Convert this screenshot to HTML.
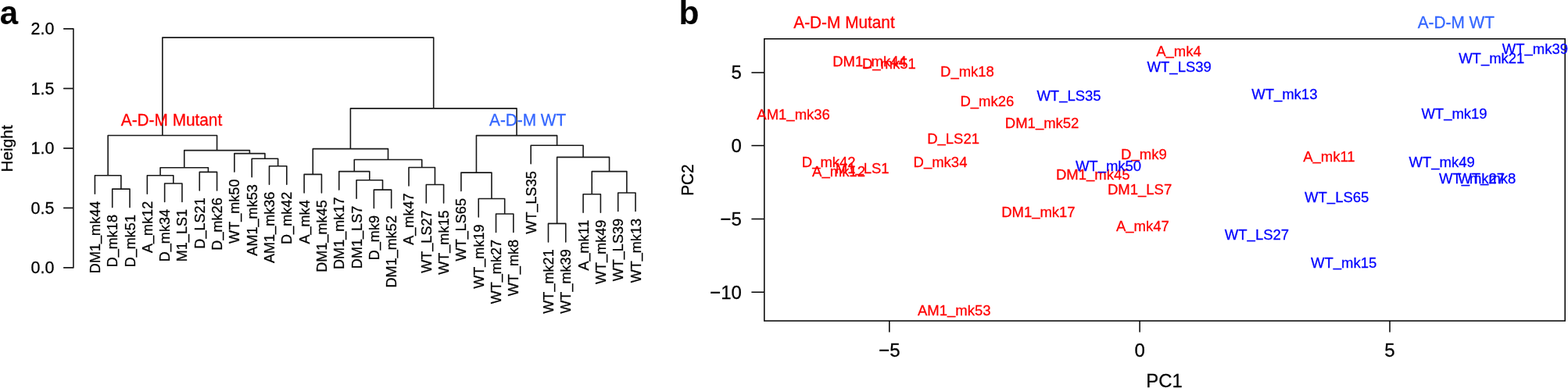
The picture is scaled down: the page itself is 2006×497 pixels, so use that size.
<!DOCTYPE html>
<html lang="en">
<head>
<meta charset="utf-8">
<title>Figure: hierarchical clustering and PCA</title>
<style>
html,body{margin:0;padding:0;background:#fff;}
body{width:2006px;height:497px;overflow:hidden;}
svg{display:block;}
svg text{font-family:"Liberation Sans", sans-serif;fill:#000;stroke:#000;stroke-width:0.28px;}
svg text.b{stroke:none;font-weight:bold;}
svg path.pb{stroke:#000;stroke-width:1.5;stroke-linecap:butt;stroke-linejoin:miter;}
svg path{fill:none;stroke:#181818;stroke-width:1.6;stroke-linecap:round;stroke-linejoin:round;}
</style>
</head>
<body>
<svg width="2006" height="497" viewBox="0 0 2006 497">
<rect x="0" y="0" width="2006" height="497" fill="#ffffff" stroke="none"/>
<path d="M93.9 36.9V342.9M93.9 36.9H81.7M93.9 113.4H81.7M93.9 189.9H81.7M93.9 266.4H81.7M93.9 342.9H81.7" />
<path d="M121.40 224.80V248.30M143.71 242.10V265.60M166.02 242.10V265.60M143.71 242.10H166.02M154.87 224.80V242.10M121.40 224.80H154.87M138.13 173.50V224.80M188.33 224.80V248.30M210.64 235.00V258.50M232.95 235.00V258.50M210.64 235.00H232.95M221.79 224.80V235.00M188.33 224.80H221.79M205.06 214.70V224.80M255.26 220.40V243.90M277.57 220.40V243.90M255.26 220.40H277.57M266.41 214.70V220.40M205.06 214.70H266.41M235.74 192.60V214.70M299.88 196.60V220.10M322.19 203.30V226.80M344.50 212.70V236.20M366.81 212.70V236.20M344.50 212.70H366.81M355.65 203.30V212.70M322.19 203.30H355.65M338.92 196.60V203.30M299.88 196.60H338.92M319.40 192.60V196.60M235.74 192.60H319.40M277.57 173.50V192.60M138.13 173.50H277.57M207.85 48.10V173.50M389.12 223.40V246.90M411.43 223.40V246.90M389.12 223.40H411.43M400.27 190.60V223.40M433.74 219.60V243.10M456.05 230.80V254.30M478.36 243.10V266.60M500.67 243.10V266.60M478.36 243.10H500.67M489.51 230.80V243.10M456.05 230.80H489.51M472.78 219.60V230.80M433.74 219.60H472.78M453.26 204.50V219.60M522.98 214.50V238.00M545.29 236.50V260.00M567.60 236.50V260.00M545.29 236.50H567.60M556.44 214.50V236.50M522.98 214.50H556.44M539.71 204.50V214.50M453.26 204.50H539.71M496.49 190.60V204.50M400.27 190.60H496.49M448.38 138.90V190.60M589.91 221.10V244.60M612.22 254.50V278.00M634.53 274.00V297.50M656.84 274.00V297.50M634.53 274.00H656.84M645.68 254.50V274.00M612.22 254.50H645.68M628.95 221.10V254.50M589.91 221.10H628.95M609.43 173.60V221.10M679.15 186.30V209.80M701.46 286.40V309.90M723.77 286.40V309.90M701.46 286.40H723.77M712.62 201.40V286.40M746.08 248.70V272.20M768.39 248.70V272.20M746.08 248.70H768.39M757.23 219.60V248.70M790.70 247.00V270.50M813.01 247.00V270.50M790.70 247.00H813.01M801.86 219.60V247.00M757.23 219.60H801.86M779.54 201.40V219.60M712.62 201.40H779.54M746.08 186.30V201.40M679.15 186.30H746.08M712.62 173.60V186.30M609.43 173.60H712.62M661.02 138.90V173.60M448.38 138.90H661.02M554.70 48.10V138.90M207.85 48.10H554.70" />
<g font-size="21.4" text-anchor="end">
<text transform="translate(69.30 44.20) scale(1 1.035)">2.0</text>
<text transform="translate(69.30 120.70) scale(1 1.035)">1.5</text>
<text transform="translate(69.30 197.20) scale(1 1.035)">1.0</text>
<text transform="translate(69.30 273.70) scale(1 1.035)">0.5</text>
<text transform="translate(69.30 350.20) scale(1 1.035)">0.0</text>
</g>
<text transform="translate(15.70 190.40) rotate(-90)" font-size="20.8" text-anchor="middle">Height</text>
<g font-size="18.1" text-anchor="end">
<text transform="translate(127.90 257.70) rotate(-90) scale(1 1.015)">DM1<tspan dy="-1.72">_</tspan><tspan dy="1.72">mk44</tspan></text>
<text transform="translate(150.21 275.00) rotate(-90) scale(1 1.015)">D<tspan dy="-1.72">_</tspan><tspan dy="1.72">mk18</tspan></text>
<text transform="translate(172.52 275.00) rotate(-90) scale(1 1.015)">D<tspan dy="-1.72">_</tspan><tspan dy="1.72">mk51</tspan></text>
<text transform="translate(194.83 257.70) rotate(-90) scale(1 1.015)">A<tspan dy="-1.72">_</tspan><tspan dy="1.72">mk12</tspan></text>
<text transform="translate(217.14 267.90) rotate(-90) scale(1 1.015)">D<tspan dy="-1.72">_</tspan><tspan dy="1.72">mk34</tspan></text>
<text transform="translate(239.45 267.90) rotate(-90) scale(1 1.015)">M1<tspan dy="-1.72">_</tspan><tspan dy="1.72">LS1</tspan></text>
<text transform="translate(261.76 253.30) rotate(-90) scale(1 1.015)">D<tspan dy="-1.72">_</tspan><tspan dy="1.72">LS21</tspan></text>
<text transform="translate(284.07 253.30) rotate(-90) scale(1 1.015)">D<tspan dy="-1.72">_</tspan><tspan dy="1.72">mk26</tspan></text>
<text transform="translate(306.38 229.50) rotate(-90) scale(1 1.015)">WT<tspan dy="-1.72">_</tspan><tspan dy="1.72">mk50</tspan></text>
<text transform="translate(328.69 236.20) rotate(-90) scale(1 1.015)">AM1<tspan dy="-1.72">_</tspan><tspan dy="1.72">mk53</tspan></text>
<text transform="translate(351.00 245.60) rotate(-90) scale(1 1.015)">AM1<tspan dy="-1.72">_</tspan><tspan dy="1.72">mk36</tspan></text>
<text transform="translate(373.31 245.60) rotate(-90) scale(1 1.015)">D<tspan dy="-1.72">_</tspan><tspan dy="1.72">mk42</tspan></text>
<text transform="translate(395.62 256.30) rotate(-90) scale(1 1.015)">A<tspan dy="-1.72">_</tspan><tspan dy="1.72">mk4</tspan></text>
<text transform="translate(417.93 256.30) rotate(-90) scale(1 1.015)">DM1<tspan dy="-1.72">_</tspan><tspan dy="1.72">mk45</tspan></text>
<text transform="translate(440.24 252.50) rotate(-90) scale(1 1.015)">DM1<tspan dy="-1.72">_</tspan><tspan dy="1.72">mk17</tspan></text>
<text transform="translate(462.55 263.70) rotate(-90) scale(1 1.015)">DM1<tspan dy="-1.72">_</tspan><tspan dy="1.72">LS7</tspan></text>
<text transform="translate(484.86 276.00) rotate(-90) scale(1 1.015)">D<tspan dy="-1.72">_</tspan><tspan dy="1.72">mk9</tspan></text>
<text transform="translate(507.17 276.00) rotate(-90) scale(1 1.015)">DM1<tspan dy="-1.72">_</tspan><tspan dy="1.72">mk52</tspan></text>
<text transform="translate(529.48 247.40) rotate(-90) scale(1 1.015)">A<tspan dy="-1.72">_</tspan><tspan dy="1.72">mk47</tspan></text>
<text transform="translate(551.79 269.40) rotate(-90) scale(1 1.015)">WT<tspan dy="-1.72">_</tspan><tspan dy="1.72">LS27</tspan></text>
<text transform="translate(574.10 269.40) rotate(-90) scale(1 1.015)">WT<tspan dy="-1.72">_</tspan><tspan dy="1.72">mk15</tspan></text>
<text transform="translate(596.41 254.00) rotate(-90) scale(1 1.015)">WT<tspan dy="-1.72">_</tspan><tspan dy="1.72">LS65</tspan></text>
<text transform="translate(618.72 287.40) rotate(-90) scale(1 1.015)">WT<tspan dy="-1.72">_</tspan><tspan dy="1.72">mk19</tspan></text>
<text transform="translate(641.03 306.90) rotate(-90) scale(1 1.015)">WT<tspan dy="-1.72">_</tspan><tspan dy="1.72">mk27</tspan></text>
<text transform="translate(663.34 306.90) rotate(-90) scale(1 1.015)">WT<tspan dy="-1.72">_</tspan><tspan dy="1.72">mk8</tspan></text>
<text transform="translate(685.65 219.20) rotate(-90) scale(1 1.015)">WT<tspan dy="-1.72">_</tspan><tspan dy="1.72">LS35</tspan></text>
<text transform="translate(707.96 319.30) rotate(-90) scale(1 1.015)">WT<tspan dy="-1.72">_</tspan><tspan dy="1.72">mk21</tspan></text>
<text transform="translate(730.27 319.30) rotate(-90) scale(1 1.015)">WT<tspan dy="-1.72">_</tspan><tspan dy="1.72">mk39</tspan></text>
<text transform="translate(752.58 281.60) rotate(-90) scale(1 1.015)">A<tspan dy="-1.72">_</tspan><tspan dy="1.72">mk11</tspan></text>
<text transform="translate(774.89 281.60) rotate(-90) scale(1 1.015)">WT<tspan dy="-1.72">_</tspan><tspan dy="1.72">mk49</tspan></text>
<text transform="translate(797.20 279.90) rotate(-90) scale(1 1.015)">WT<tspan dy="-1.72">_</tspan><tspan dy="1.72">LS39</tspan></text>
<text transform="translate(819.51 279.90) rotate(-90) scale(1 1.015)">WT<tspan dy="-1.72">_</tspan><tspan dy="1.72">mk13</tspan></text>
</g>
<text transform="translate(-0.30 30.90)" font-size="42" class="b">a</text>
<text transform="translate(868.50 30.90)" font-size="42.5" class="b">b</text>
<text transform="translate(219.50 160.50) scale(1 1.03)" font-size="20.8" text-anchor="middle" style="fill:#ff0000;stroke:#ff0000">A-D-M Mutant</text>
<text transform="translate(675.10 160.80) scale(1 1.03)" font-size="20.8" text-anchor="middle" style="fill:#3366ff;stroke:#3366ff">A-D-M WT</text>
<path class="pb" d="M977.8 49.8H2002.2V411.1H977.8ZM1137.8 411.1V425.5M1458.1 411.1V425.5M1778.0 411.1V425.5M977.8 92.9H961.4M977.8 186.6H961.4M977.8 280.4H961.4M977.8 374.2H961.4" />
<g font-size="24" text-anchor="middle">
<text transform="translate(1137.80 456.90) scale(1 1.035)">−5</text>
<text transform="translate(1458.10 456.90) scale(1 1.035)">0</text>
<text transform="translate(1778.00 456.90) scale(1 1.035)">5</text>
</g>
<g font-size="24" text-anchor="end">
<text transform="translate(948.90 101.40) scale(1 1.035)">5</text>
<text transform="translate(948.90 195.10) scale(1 1.035)">0</text>
<text transform="translate(948.90 288.90) scale(1 1.035)">−5</text>
<text transform="translate(948.90 382.70) scale(1 1.035)">−10</text>
</g>
<text transform="translate(1489.50 496.10) scale(1 1.035)" font-size="23.8" text-anchor="middle">PC1</text>
<text transform="translate(886.90 230.60) rotate(-90) scale(1 1.035)" font-size="20.8" text-anchor="middle">PC2</text>
<text transform="translate(1080.00 35.90) scale(1 1.03)" font-size="20.8" text-anchor="middle" style="fill:#ff0000;stroke:#ff0000">A-D-M Mutant</text>
<text transform="translate(1862.80 35.90) scale(1 1.03)" font-size="20.8" text-anchor="middle" style="fill:#3366ff;stroke:#3366ff">A-D-M WT</text>
<g font-size="18.5">
<text transform="translate(1065.20 85.10) scale(1 1.015)" text-anchor="start" style="fill:#ff0000;stroke:#ff0000">DM1<tspan dy="-1.76">_</tspan><tspan dy="1.76">mk44</tspan></text>
<text transform="translate(1137.35 87.50) scale(1 1.015)" text-anchor="middle" style="fill:#ff0000;stroke:#ff0000">D<tspan dy="-1.76">_</tspan><tspan dy="1.76">mk51</tspan></text>
<text transform="translate(1237.45 98.40) scale(1 1.015)" text-anchor="middle" style="fill:#ff0000;stroke:#ff0000">D<tspan dy="-1.76">_</tspan><tspan dy="1.76">mk18</tspan></text>
<text transform="translate(1262.90 136.40) scale(1 1.015)" text-anchor="middle" style="fill:#ff0000;stroke:#ff0000">D<tspan dy="-1.76">_</tspan><tspan dy="1.76">mk26</tspan></text>
<text transform="translate(1015.10 152.70) scale(1 1.015)" text-anchor="middle" style="fill:#ff0000;stroke:#ff0000">AM1<tspan dy="-1.76">_</tspan><tspan dy="1.76">mk36</tspan></text>
<text transform="translate(1219.60 183.80) scale(1 1.015)" text-anchor="middle" style="fill:#ff0000;stroke:#ff0000">D<tspan dy="-1.76">_</tspan><tspan dy="1.76">LS21</tspan></text>
<text transform="translate(1025.80 214.10) scale(1 1.015)" text-anchor="start" style="fill:#ff0000;stroke:#ff0000">D<tspan dy="-1.76">_</tspan><tspan dy="1.76">mk42</tspan></text>
<text transform="translate(1039.10 225.90) scale(1 1.015)" text-anchor="start" style="fill:#ff0000;stroke:#ff0000">A<tspan dy="-1.76">_</tspan><tspan dy="1.76">mk12</tspan></text>
<text transform="translate(1137.60 221.70) scale(1 1.015)" text-anchor="end" style="fill:#ff0000;stroke:#ff0000">M1<tspan dy="-1.76">_</tspan><tspan dy="1.76">LS1</tspan></text>
<text transform="translate(1203.00 214.10) scale(1 1.015)" text-anchor="middle" style="fill:#ff0000;stroke:#ff0000">D<tspan dy="-1.76">_</tspan><tspan dy="1.76">mk34</tspan></text>
<text transform="translate(1333.10 163.60) scale(1 1.015)" text-anchor="middle" style="fill:#ff0000;stroke:#ff0000">DM1<tspan dy="-1.76">_</tspan><tspan dy="1.76">mk52</tspan></text>
<text transform="translate(1328.40 278.10) scale(1 1.015)" text-anchor="middle" style="fill:#ff0000;stroke:#ff0000">DM1<tspan dy="-1.76">_</tspan><tspan dy="1.76">mk17</tspan></text>
<text transform="translate(1398.25 229.80) scale(1 1.015)" text-anchor="middle" style="fill:#ff0000;stroke:#ff0000">DM1<tspan dy="-1.76">_</tspan><tspan dy="1.76">mk45</tspan></text>
<text transform="translate(1458.10 249.40) scale(1 1.015)" text-anchor="middle" style="fill:#ff0000;stroke:#ff0000">DM1<tspan dy="-1.76">_</tspan><tspan dy="1.76">LS7</tspan></text>
<text transform="translate(1463.40 204.20) scale(1 1.015)" text-anchor="middle" style="fill:#ff0000;stroke:#ff0000">D<tspan dy="-1.76">_</tspan><tspan dy="1.76">mk9</tspan></text>
<text transform="translate(1461.85 296.20) scale(1 1.015)" text-anchor="middle" style="fill:#ff0000;stroke:#ff0000">A<tspan dy="-1.76">_</tspan><tspan dy="1.76">mk47</tspan></text>
<text transform="translate(1507.90 71.80) scale(1 1.015)" text-anchor="middle" style="fill:#ff0000;stroke:#ff0000">A<tspan dy="-1.76">_</tspan><tspan dy="1.76">mk4</tspan></text>
<text transform="translate(1700.40 207.20) scale(1 1.015)" text-anchor="middle" style="fill:#ff0000;stroke:#ff0000">A<tspan dy="-1.76">_</tspan><tspan dy="1.76">mk11</tspan></text>
<text transform="translate(1220.75 403.80) scale(1 1.015)" text-anchor="middle" style="fill:#ff0000;stroke:#ff0000">AM1<tspan dy="-1.76">_</tspan><tspan dy="1.76">mk53</tspan></text>
<text transform="translate(1367.50 128.80) scale(1 1.015)" text-anchor="middle" style="fill:#0000ff;stroke:#0000ff">WT<tspan dy="-1.76">_</tspan><tspan dy="1.76">LS35</tspan></text>
<text transform="translate(1418.00 218.70) scale(1 1.015)" text-anchor="middle" style="fill:#0000ff;stroke:#0000ff">WT<tspan dy="-1.76">_</tspan><tspan dy="1.76">mk50</tspan></text>
<text transform="translate(1508.70 92.30) scale(1 1.015)" text-anchor="middle" style="fill:#0000ff;stroke:#0000ff">WT<tspan dy="-1.76">_</tspan><tspan dy="1.76">LS39</tspan></text>
<text transform="translate(1643.30 127.30) scale(1 1.015)" text-anchor="middle" style="fill:#0000ff;stroke:#0000ff">WT<tspan dy="-1.76">_</tspan><tspan dy="1.76">mk13</tspan></text>
<text transform="translate(1860.50 151.70) scale(1 1.015)" text-anchor="middle" style="fill:#0000ff;stroke:#0000ff">WT<tspan dy="-1.76">_</tspan><tspan dy="1.76">mk19</tspan></text>
<text transform="translate(1844.65 214.30) scale(1 1.015)" text-anchor="middle" style="fill:#0000ff;stroke:#0000ff">WT<tspan dy="-1.76">_</tspan><tspan dy="1.76">mk49</tspan></text>
<text transform="translate(1840.90 235.40) scale(1 1.015)" text-anchor="start" style="fill:#0000ff;stroke:#0000ff">WT<tspan dy="-1.76">_</tspan><tspan dy="1.76">mk27</tspan></text>
<text transform="translate(1939.30 234.70) scale(1 1.015)" text-anchor="end" style="fill:#0000ff;stroke:#0000ff">WT<tspan dy="-1.76">_</tspan><tspan dy="1.76">mk8</tspan></text>
<text transform="translate(1710.20 258.50) scale(1 1.015)" text-anchor="middle" style="fill:#0000ff;stroke:#0000ff">WT<tspan dy="-1.76">_</tspan><tspan dy="1.76">LS65</tspan></text>
<text transform="translate(1607.95 306.60) scale(1 1.015)" text-anchor="middle" style="fill:#0000ff;stroke:#0000ff">WT<tspan dy="-1.76">_</tspan><tspan dy="1.76">LS27</tspan></text>
<text transform="translate(1719.20 342.80) scale(1 1.015)" text-anchor="middle" style="fill:#0000ff;stroke:#0000ff">WT<tspan dy="-1.76">_</tspan><tspan dy="1.76">mk15</tspan></text>
<text transform="translate(1908.25 81.30) scale(1 1.015)" text-anchor="middle" style="fill:#0000ff;stroke:#0000ff">WT<tspan dy="-1.76">_</tspan><tspan dy="1.76">mk21</tspan></text>
<text transform="translate(1921.80 69.20) scale(1 1.015)" text-anchor="start" style="fill:#0000ff;stroke:#0000ff">WT<tspan dy="-1.76">_</tspan><tspan dy="1.76">mk39</tspan></text>
</g>
</svg>
</body>
</html>
